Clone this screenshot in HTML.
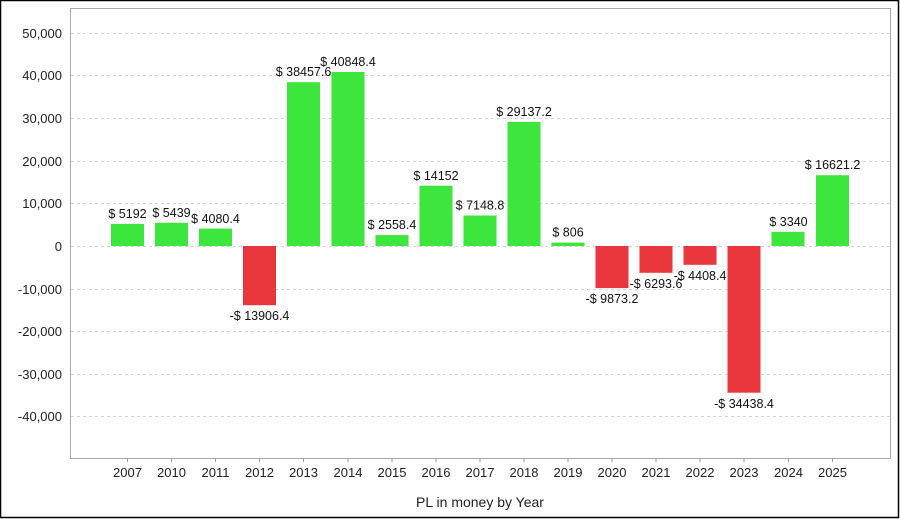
<!DOCTYPE html>
<html><head><style>
html,body{margin:0;padding:0;background:#fff}
svg{display:block;font-family:"Liberation Sans",Arial,sans-serif}
</style></head><body>
<svg width="900" height="519" viewBox="0 0 900 519">
<rect x="0.5" y="0.5" width="898" height="517" fill="#fff" stroke="#000" stroke-width="1.5"/>
<rect x="70.5" y="8.5" width="820" height="450" fill="#fff" stroke="#aaa" stroke-width="1"/>
<g stroke="#d6d6d6" stroke-dasharray="3,3" stroke-width="1">
<line x1="71" x2="890" y1="33.5" y2="33.5"/>
<line x1="71" x2="890" y1="75.5" y2="75.5"/>
<line x1="71" x2="890" y1="118.5" y2="118.5"/>
<line x1="71" x2="890" y1="161.5" y2="161.5"/>
<line x1="71" x2="890" y1="203.5" y2="203.5"/>
<line x1="71" x2="890" y1="246.5" y2="246.5"/>
<line x1="71" x2="890" y1="289.5" y2="289.5"/>
<line x1="71" x2="890" y1="331.5" y2="331.5"/>
<line x1="71" x2="890" y1="374.5" y2="374.5"/>
<line x1="71" x2="890" y1="416.5" y2="416.5"/>
</g>
<g font-size="13" fill="#222" text-anchor="end">
<text x="62" y="38">50,000</text>
<text x="62" y="80">40,000</text>
<text x="62" y="123">30,000</text>
<text x="62" y="166">20,000</text>
<text x="62" y="208">10,000</text>
<text x="62" y="251">0</text>
<text x="62" y="294">-10,000</text>
<text x="62" y="336">-20,000</text>
<text x="62" y="379">-30,000</text>
<text x="62" y="421">-40,000</text>
</g>
<g fill="#3ce63c">
<rect x="111" y="223.9" width="33" height="22.1"/>
<rect x="155" y="222.8" width="33" height="23.2"/>
<rect x="199" y="228.6" width="33" height="17.4"/>
<rect x="287" y="82.2" width="33" height="163.8"/>
<rect x="331.5" y="72" width="33" height="174"/>
<rect x="375.5" y="235.1" width="33" height="10.9"/>
<rect x="419.5" y="185.7" width="33" height="60.3"/>
<rect x="463.5" y="215.5" width="33" height="30.5"/>
<rect x="507.5" y="121.9" width="33" height="124.1"/>
<rect x="551.5" y="242.6" width="33" height="3.4"/>
<rect x="771.5" y="231.8" width="33" height="14.2"/>
<rect x="816" y="175.2" width="33" height="70.8"/>
</g>
<g fill="#e8363c">
<rect x="243" y="246" width="33" height="59.2"/>
<rect x="595.5" y="246" width="33" height="42.1"/>
<rect x="639.5" y="246" width="33" height="26.8"/>
<rect x="683.5" y="246" width="33" height="18.8"/>
<rect x="727.5" y="246" width="33" height="146.7"/>
</g>
<g font-size="12.5" fill="#111" text-anchor="middle">
<text x="127.5" y="218">$ 5192</text>
<text x="171.5" y="217">$ 5439</text>
<text x="215.5" y="223">$ 4080.4</text>
<text x="259.5" y="320">-$ 13906.4</text>
<text x="303.5" y="76">$ 38457.6</text>
<text x="348" y="66">$ 40848.4</text>
<text x="392" y="229">$ 2558.4</text>
<text x="436" y="180">$ 14152</text>
<text x="480" y="209.5">$ 7148.8</text>
<text x="524" y="116">$ 29137.2</text>
<text x="568" y="236.6">$ 806</text>
<text x="612" y="303">-$ 9873.2</text>
<text x="656" y="288">-$ 6293.6</text>
<text x="700" y="280">-$ 4408.4</text>
<text x="744" y="408">-$ 34438.4</text>
<text x="788.5" y="226">$ 3340</text>
<text x="832.5" y="169">$ 16621.2</text>
</g>
<g stroke="#999">
<line x1="127.5" x2="127.5" y1="458" y2="462"/><line x1="171.5" x2="171.5" y1="458" y2="462"/><line x1="215.5" x2="215.5" y1="458" y2="462"/><line x1="259.5" x2="259.5" y1="458" y2="462"/><line x1="303.5" x2="303.5" y1="458" y2="462"/><line x1="348" x2="348" y1="458" y2="462"/><line x1="392" x2="392" y1="458" y2="462"/><line x1="436" x2="436" y1="458" y2="462"/><line x1="480" x2="480" y1="458" y2="462"/><line x1="524" x2="524" y1="458" y2="462"/><line x1="568" x2="568" y1="458" y2="462"/><line x1="612" x2="612" y1="458" y2="462"/><line x1="656" x2="656" y1="458" y2="462"/><line x1="700" x2="700" y1="458" y2="462"/><line x1="744" x2="744" y1="458" y2="462"/><line x1="788.5" x2="788.5" y1="458" y2="462"/><line x1="832.5" x2="832.5" y1="458" y2="462"/>
</g>
<g font-size="13" fill="#222" text-anchor="middle">
<text x="127.5" y="477">2007</text><text x="171.5" y="477">2010</text><text x="215.5" y="477">2011</text><text x="259.5" y="477">2012</text><text x="303.5" y="477">2013</text><text x="348" y="477">2014</text><text x="392" y="477">2015</text><text x="436" y="477">2016</text><text x="480" y="477">2017</text><text x="524" y="477">2018</text><text x="568" y="477">2019</text><text x="612" y="477">2020</text><text x="656" y="477">2021</text><text x="700" y="477">2022</text><text x="744" y="477">2023</text><text x="788.5" y="477">2024</text><text x="832.5" y="477">2025</text>
</g>
<text x="480" y="507" font-size="14" fill="#222" text-anchor="middle">PL in money by Year</text>
</svg>
</body></html>
